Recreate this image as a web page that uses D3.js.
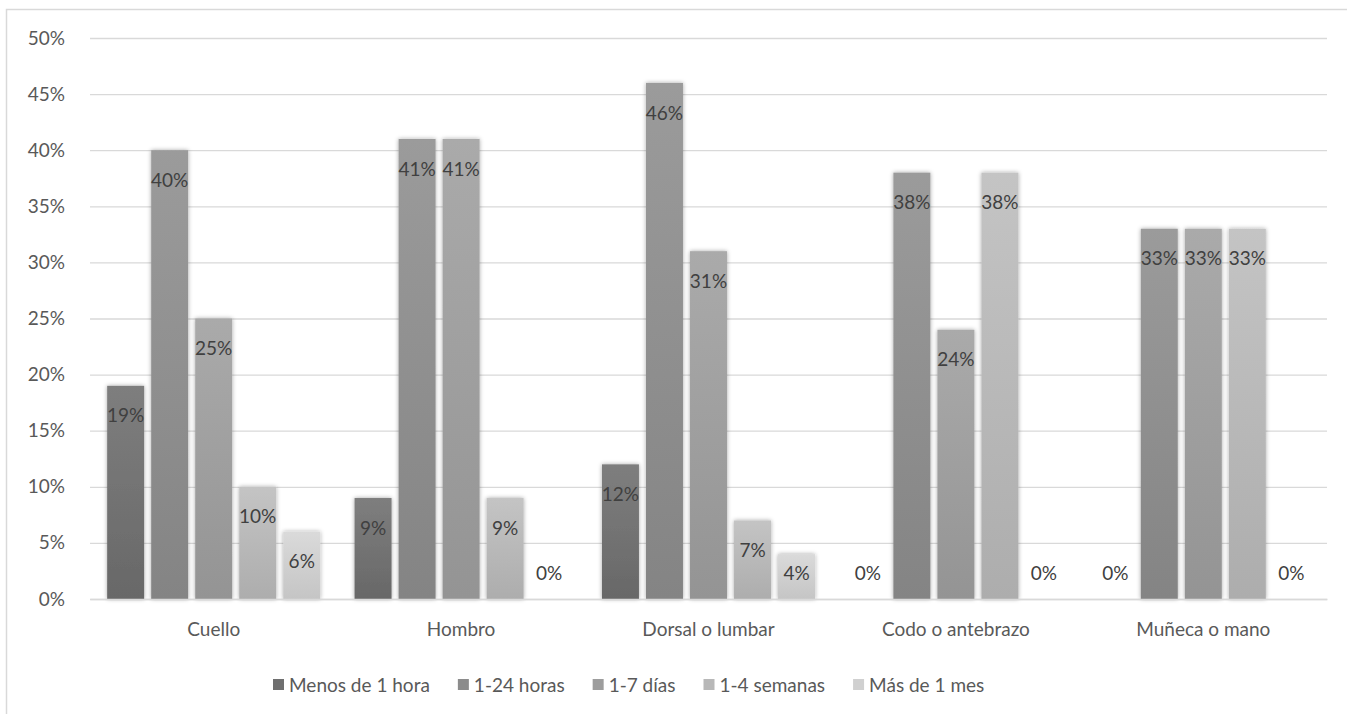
<!DOCTYPE html>
<html lang="es">
<head>
<meta charset="utf-8">
<script src="https://cdn.jsdelivr.net/npm/d3@7/dist/d3.min.js"></script>
<style>
  html, body { margin: 0; padding: 0; background: #fff; }
  svg { display: block; font-family: Lato, "Open Sans", sans-serif; }
</style>
</head>
<body>
<svg id="chart" width="1347" height="714"></svg>
<script>
// Zonas del cuerpo y duración de las molestias (% de casos)
const categories = ["Cuello", "Hombro", "Dorsal o lumbar", "Codo o antebrazo", "Muñeca o mano"];
const seriesNames = ["Menos de 1 hora", "1-24 horas", "1-7 días", "1-4 semanas", "Más de 1 mes"];
const menosDe1Hora = [19, 9, 12, 0, 0];
const de1a24Horas  = [40, 41, 46, 38, 33];
const de1a7Dias    = [25, 41, 31, 24, 33];
const de1a4Semanas = [10, 9, 7, 38, 33];
const masDe1Mes    = [6, 0, 4, 0, 0];
const yTicks = [0, 5, 10, 15, 20, 25, 30, 35, 40, 45, 50];

const seriesValues = [menosDe1Hora, de1a24Horas, de1a7Dias, de1a4Semanas, masDe1Mes];
// gradient stops per series: [top, bottom]
const seriesShades = [
  ["#7e7e7e", "#686868"],
  ["#9b9b9b", "#848484"],
  ["#aaaaaa", "#949494"],
  ["#c4c4c4", "#adadad"],
  ["#dadada", "#c5c5c5"]
];
const legendShades = ["#6f6f6f", "#8c8c8c", "#9d9d9d", "#b8b8b8", "#d0d0d0"];

const FONT = "Lato, 'Open Sans', sans-serif";
const FS = "19px";

const svg = d3.select("#chart");
const textColor = "#595959";
const gridColor = "#d9d9d9";

// chart frame
svg.append("rect")
  .attr("x", 6.5).attr("y", 9.5)
  .attr("width", 1400).attr("height", 800)
  .attr("fill", "#fff").attr("stroke", gridColor).attr("stroke-width", 1.5);

const plot = { left: 90, right: 1327, top: 38, bottom: 599 };

const y = d3.scaleLinear().domain([0, 50]).range([plot.bottom, plot.top]);
const x0 = d3.scaleBand().domain(categories).range([plot.left, plot.right]).padding(0);
const x1 = d3.scaleBand().domain(d3.range(seriesNames.length))
  .range([0, x0.bandwidth()]).paddingInner(0.16).paddingOuter(0.39);

const defs = svg.append("defs");
seriesShades.forEach((c, i) => {
  const g = defs.append("linearGradient").attr("id", "grad" + i)
    .attr("x1", 0).attr("y1", 0).attr("x2", 0).attr("y2", 1);
  g.append("stop").attr("offset", "0%").attr("stop-color", c[0]);
  g.append("stop").attr("offset", "100%").attr("stop-color", c[1]);
});
const sh = defs.append("filter").attr("id", "shadow")
  .attr("x", "-30%").attr("y", "-10%").attr("width", "160%").attr("height", "120%");
sh.append("feDropShadow").attr("dx", 0).attr("dy", 0)
  .attr("stdDeviation", 2).attr("flood-color", "#000").attr("flood-opacity", 0.35);

// gridlines and y-axis labels
const yAxis = d3.axisLeft(y).tickValues(yTicks)
  .tickSize(-(plot.right - plot.left)).tickFormat(d => d + "%").tickPadding(25);
const gy = svg.append("g").attr("transform", `translate(${plot.left},0)`).call(yAxis);
gy.select(".domain").remove();
gy.selectAll(".tick line").attr("stroke", gridColor).attr("stroke-width", 1.3);
gy.selectAll(".tick text").attr("fill", textColor)
  .style("font-size", FS).style("font-family", FONT);

// bars
const groups = svg.append("g").selectAll("g")
  .data(categories).join("g")
  .attr("transform", d => `translate(${x0(d)},0)`);

const cells = groups.selectAll("g.cell")
  .data((cat, ci) => seriesValues.map((vals, si) => ({ si, v: vals[ci] })))
  .join("g").attr("class", "cell");

cells.filter(d => d.v > 0).append("rect")
  .attr("x", d => x1(d.si))
  .attr("y", d => y(d.v))
  .attr("width", x1.bandwidth())
  .attr("height", d => y(0) - y(d.v))
  .attr("fill", d => `url(#grad${d.si})`)
  .attr("filter", "url(#shadow)");

// x axis line and category labels
const xAxis = d3.axisBottom(x0).tickSize(0).tickPadding(24);
const gx = svg.append("g").attr("transform", `translate(0,${plot.bottom})`).call(xAxis);
gx.select(".domain").attr("stroke", gridColor).attr("stroke-width", 1.5);
gx.selectAll(".tick text").attr("fill", textColor)
  .style("font-size", FS).style("font-family", FONT);

// value labels
cells.append("text")
  .attr("x", d => x1(d.si) + x1.bandwidth() / 2)
  .attr("y", d => Math.min(y(d.v) + 30, y(0) - 26))
  .attr("dy", "0.35em")
  .attr("text-anchor", "middle")
  .attr("fill", "#404040")
  .style("font-size", FS)
  .text(d => d.v + "%");

// legend
const legend = svg.append("g").attr("transform", "translate(273,685)");
let lx = 0;
seriesNames.forEach((name, i) => {
  const item = legend.append("g").attr("transform", `translate(${lx},0)`);
  item.append("rect").attr("x", 0).attr("y", -6).attr("width", 11).attr("height", 11)
    .attr("fill", legendShades[i]);
  const t = item.append("text").attr("x", 16).attr("y", 0).attr("dy", "0.35em")
    .attr("fill", textColor).style("font-size", FS).text(name);
  lx += 16 + t.node().getComputedTextLength() + 28;
});
</script>
</body>
</html>
